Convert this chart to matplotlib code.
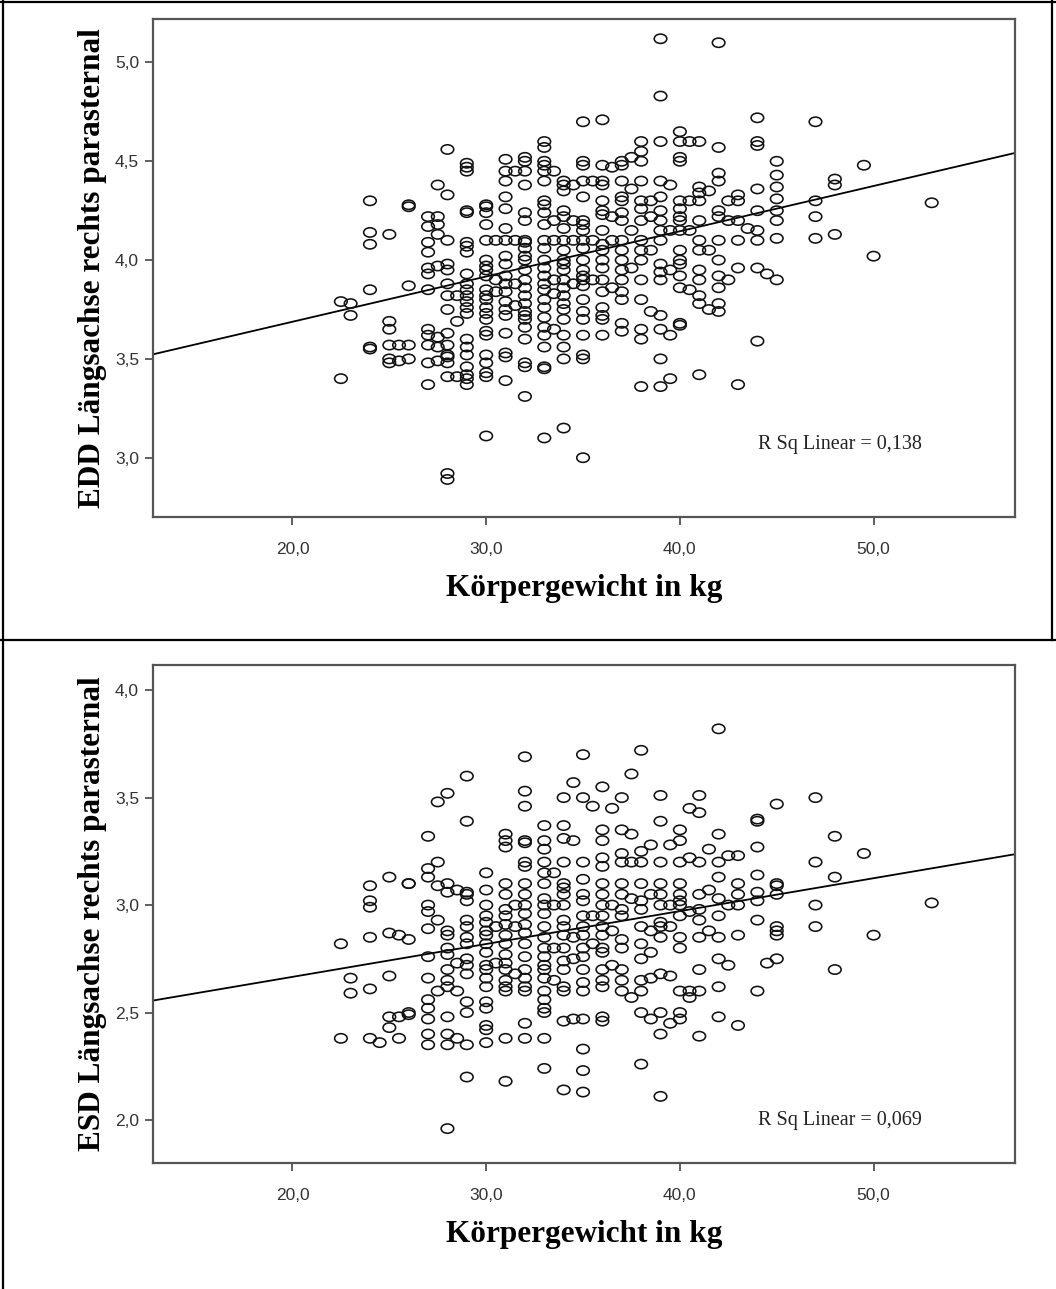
import numpy as np
import matplotlib.pyplot as plt
from matplotlib.path import Path
from matplotlib.lines import Line2D
from matplotlib.ticker import FixedLocator, FuncFormatter

# Körpergewicht (kg) columns and the values plotted above each of them
edd_weights = [22.5, 23, 24, 25, 25.5, 26, 27, 27.5, 28, 28.5, 29, 30, 30.5, 31, 31.5,
               32, 33, 33.5, 34, 34.5, 35, 35.5, 36, 36.5, 37, 37.5, 38, 38.5, 39,
               39.5, 40, 40.5, 41, 41.5, 42, 42.5, 43, 43.5, 44, 44.5, 45, 47, 48,
               49.5, 50, 53]
edd_values = [
    [3.79, 3.40],
    [3.78, 3.72],
    [4.30, 4.14, 4.08, 3.85, 3.56, 3.55],
    [4.13, 3.69, 3.65, 3.57, 3.50, 3.48],
    [3.57, 3.49],
    [4.28, 4.27, 3.87, 3.57, 3.50],
    [4.22, 4.17, 4.09, 4.04, 3.96, 3.93, 3.85, 3.65, 3.62, 3.57, 3.48, 3.37],
    [4.38, 4.22, 4.18, 4.13, 3.97, 3.61, 3.56, 3.49],
    [4.56, 4.33, 4.10, 3.98, 3.95, 3.88, 3.82, 3.75, 3.63, 3.57, 3.52, 3.51, 3.48,
     3.41, 2.92, 2.89],
    [3.82, 3.69, 3.41],
    [4.49, 4.47, 4.45, 4.25, 4.24, 4.09, 4.07, 4.04, 3.93, 3.88, 3.85, 3.82, 3.79,
     3.76, 3.73, 3.60, 3.56, 3.52, 3.46, 3.42, 3.40, 3.37],
    [4.28, 4.27, 4.24, 4.18, 4.10, 4.00, 3.97, 3.95, 3.92, 3.85, 3.82, 3.80, 3.76,
     3.73, 3.70, 3.64, 3.62, 3.52, 3.48, 3.43, 3.41, 3.11],
    [4.10, 3.90, 3.84],
    [4.51, 4.45, 4.40, 4.32, 4.26, 4.16, 4.10, 4.02, 3.98, 3.92, 3.88, 3.84, 3.79,
     3.75, 3.72, 3.63, 3.53, 3.51, 3.39],
    [4.45, 4.10, 3.88, 3.77],
    [4.52, 4.50, 4.45, 4.38, 4.24, 4.20, 4.10, 4.09, 4.06, 4.02, 4.00, 3.95, 3.90,
     3.86, 3.82, 3.78, 3.74, 3.72, 3.70, 3.66, 3.60, 3.48, 3.46, 3.31],
    [4.60, 4.57, 4.50, 4.48, 4.45, 4.40, 4.30, 4.28, 4.24, 4.18, 4.10, 4.06, 4.00,
     3.96, 3.92, 3.88, 3.85, 3.80, 3.76, 3.71, 3.66, 3.62, 3.56, 3.46, 3.45, 3.10],
    [4.45, 4.20, 4.10, 3.90, 3.83, 3.65],
    [4.40, 4.38, 4.35, 4.25, 4.22, 4.16, 4.10, 4.05, 4.00, 3.98, 3.95, 3.90, 3.86,
     3.82, 3.78, 3.75, 3.70, 3.62, 3.56, 3.50, 3.15],
    [4.38, 4.20, 4.10, 3.88],
    [4.70, 4.50, 4.48, 4.40, 4.32, 4.20, 4.18, 4.15, 4.10, 4.06, 4.00, 3.95, 3.92,
     3.90, 3.87, 3.80, 3.74, 3.70, 3.62, 3.52, 3.50, 3.00],
    [4.40, 4.10, 3.90],
    [4.71, 4.48, 4.40, 4.38, 4.30, 4.25, 4.23, 4.15, 4.08, 4.05, 4.00, 3.96, 3.90,
     3.84, 3.76, 3.72, 3.70, 3.62],
    [4.47, 4.22, 4.10, 3.86],
    [4.50, 4.48, 4.40, 4.32, 4.30, 4.24, 4.20, 4.10, 4.05, 4.00, 3.95, 3.90, 3.84,
     3.80, 3.68, 3.64],
    [4.52, 4.36, 4.15, 3.96],
    [4.60, 4.55, 4.50, 4.40, 4.30, 4.26, 4.20, 4.10, 4.05, 4.00, 3.90, 3.80, 3.65,
     3.60, 3.36],
    [4.30, 4.22, 4.05, 3.74],
    [5.12, 4.83, 4.60, 4.40, 4.32, 4.25, 4.20, 4.15, 4.10, 3.98, 3.94, 3.90, 3.72,
     3.65, 3.50, 3.36],
    [4.38, 4.15, 3.95, 3.62, 3.40],
    [4.65, 4.60, 4.52, 4.50, 4.30, 4.26, 4.22, 4.20, 4.15, 4.05, 4.00, 3.98, 3.92,
     3.86, 3.68, 3.67],
    [4.60, 4.30, 4.15, 3.85],
    [4.60, 4.37, 4.34, 4.30, 4.20, 4.10, 4.05, 3.95, 3.90, 3.82, 3.78, 3.42],
    [4.35, 4.05, 3.75],
    [5.10, 4.57, 4.44, 4.40, 4.25, 4.22, 4.10, 4.00, 3.92, 3.86, 3.78, 3.74],
    [4.30, 4.20, 3.90],
    [4.33, 4.30, 4.20, 4.10, 3.96, 3.37],
    [4.16],
    [4.72, 4.60, 4.58, 4.36, 4.25, 4.15, 4.10, 3.96, 3.59],
    [3.93],
    [4.50, 4.43, 4.37, 4.31, 4.25, 4.20, 4.11, 3.90],
    [4.70, 4.30, 4.22, 4.11],
    [4.41, 4.38, 4.13],
    [4.48],
    [4.02],
    [4.29],
]

esd_weights = [22.5, 23, 24, 24.5, 25, 25.5, 26, 27, 27.5, 28, 28.5, 29, 30, 30.5,
               31, 31.5, 32, 33, 33.5, 34, 34.5, 35, 35.5, 36, 36.5, 37, 37.5, 38,
               38.5, 39, 39.5, 40, 40.5, 41, 41.5, 42, 42.5, 43, 44, 44.5, 45, 47,
               48, 49.5, 50, 53]
esd_values = [
    [2.82, 2.38],
    [2.66, 2.59],
    [3.09, 3.02, 2.99, 2.85, 2.61, 2.38],
    [2.36],
    [3.13, 2.87, 2.67, 2.48, 2.43],
    [2.86, 2.48, 2.38],
    [3.10, 3.10, 2.84, 2.50, 2.49],
    [3.32, 3.17, 3.13, 3.00, 2.97, 2.89, 2.76, 2.66, 2.56, 2.52, 2.47, 2.40, 2.35],
    [3.48, 3.20, 3.09, 2.93, 2.60],
    [3.52, 3.10, 3.06, 2.88, 2.86, 2.80, 2.77, 2.70, 2.65, 2.62, 2.48, 2.40, 2.35,
     1.96],
    [3.07, 2.73, 2.60, 2.38],
    [3.60, 3.39, 3.06, 3.05, 3.02, 2.93, 2.90, 2.85, 2.82, 2.75, 2.72, 2.68, 2.55,
     2.50, 2.35, 2.20],
    [3.15, 3.07, 3.00, 2.95, 2.92, 2.88, 2.86, 2.82, 2.78, 2.72, 2.70, 2.66, 2.62,
     2.55, 2.52, 2.44, 2.42, 2.36],
    [2.90, 2.73],
    [3.33, 3.30, 3.27, 3.10, 3.05, 2.98, 2.95, 2.91, 2.86, 2.82, 2.77, 2.73, 2.70,
     2.65, 2.62, 2.60, 2.38, 2.18],
    [3.00, 2.90, 2.68],
    [3.69, 3.53, 3.46, 3.30, 3.29, 3.20, 3.18, 3.10, 3.05, 3.00, 2.96, 2.91, 2.87,
     2.82, 2.76, 2.70, 2.66, 2.62, 2.60, 2.45, 2.38],
    [3.37, 3.30, 3.26, 3.20, 3.15, 3.10, 3.03, 3.00, 2.96, 2.90, 2.85, 2.80, 2.76,
     2.72, 2.70, 2.66, 2.60, 2.56, 2.52, 2.50, 2.38, 2.24],
    [3.15, 3.00, 2.80, 2.65],
    [3.50, 3.37, 3.31, 3.20, 3.10, 3.08, 3.05, 3.00, 2.93, 2.90, 2.86, 2.80, 2.74,
     2.70, 2.62, 2.60, 2.46, 2.14],
    [3.57, 3.30, 2.85, 2.75, 2.47],
    [3.70, 3.50, 3.20, 3.12, 3.05, 3.02, 2.95, 2.90, 2.86, 2.80, 2.76, 2.70, 2.64,
     2.60, 2.47, 2.33, 2.23, 2.13],
    [3.46, 2.95, 2.82],
    [3.55, 3.35, 3.30, 3.22, 3.18, 3.10, 3.05, 3.00, 2.95, 2.90, 2.86, 2.80, 2.78,
     2.70, 2.65, 2.62, 2.48, 2.46],
    [3.45, 3.00, 2.88, 2.72],
    [3.50, 3.35, 3.24, 3.20, 3.10, 3.05, 2.98, 2.95, 2.84, 2.80, 2.70, 2.65, 2.60],
    [3.61, 3.33, 3.20, 3.03, 2.57],
    [3.72, 3.25, 3.20, 3.10, 3.02, 2.98, 2.90, 2.82, 2.75, 2.65, 2.60, 2.50, 2.26],
    [3.28, 3.05, 2.88, 2.78, 2.66, 2.47],
    [3.51, 3.39, 3.20, 3.10, 3.05, 3.00, 2.92, 2.90, 2.85, 2.68, 2.50, 2.40, 2.11],
    [3.28, 3.00, 2.90, 2.67, 2.45],
    [3.35, 3.30, 3.20, 3.10, 3.05, 3.02, 3.00, 2.95, 2.85, 2.80, 2.60, 2.50, 2.47],
    [3.45, 3.22, 2.97, 2.60, 2.57],
    [3.51, 3.43, 3.20, 3.05, 2.98, 2.93, 2.85, 2.70, 2.60, 2.39],
    [3.26, 3.07, 2.88],
    [3.82, 3.33, 3.20, 3.13, 3.03, 2.95, 2.85, 2.75, 2.62, 2.48],
    [3.23, 3.00, 2.72],
    [3.23, 3.10, 3.05, 3.00, 2.86, 2.44],
    [3.40, 3.39, 3.27, 3.14, 3.06, 3.02, 2.93, 2.60],
    [2.73],
    [3.47, 3.10, 3.09, 3.05, 2.90, 2.88, 2.86, 2.75],
    [3.50, 3.20, 3.00, 2.90],
    [3.32, 3.13, 2.70],
    [3.24],
    [2.86],
    [3.01],
]

# fitted lines as drawn in the chart (intercept, slope)
edd_fit = (3.23, 0.0229)
esd_fit = (2.36, 0.0153)
edd_r2 = "R Sq Linear = 0,138"
esd_r2 = "R Sq Linear = 0,069"

x_ticks = [20, 30, 40, 50]
edd_ticks = [3.0, 3.5, 4.0, 4.5, 5.0]
esd_ticks = [2.0, 2.5, 3.0, 3.5, 4.0]

W, H = 1056, 1289
fig = plt.figure(figsize=(W / 100, H / 100), dpi=100)

# oval open markers (the original graphic is stretched sideways)
circ = Path.unit_circle()
oval = Path(circ.vertices * [1.0, 0.74], circ.codes)

tick_font = ['Liberation Sans Narrow', 'Liberation Sans', 'DejaVu Sans']
comma = FuncFormatter(lambda v, p: f"{v:.1f}".replace(".", ","))


def panel(rect, weights, groups, fit, r2, yticks, ylim, ylabel, r2_y):
    ax = fig.add_axes(rect)
    xs = np.concatenate([[w] * len(g) for w, g in zip(weights, groups)])
    ys = np.concatenate(groups)
    ax.scatter(xs, ys, s=82, marker=oval, facecolors='none',
               edgecolors='#111111', linewidths=1.15, zorder=3)
    xl = np.array([12.8, 57.3])
    ax.plot(xl, fit[0] + fit[1] * xl, color='black', lw=1.3, zorder=2)
    ax.set_xlim(12.8, 57.3)
    ax.set_ylim(*ylim)
    ax.xaxis.set_major_locator(FixedLocator(x_ticks))
    ax.yaxis.set_major_locator(FixedLocator(yticks))
    ax.xaxis.set_major_formatter(comma)
    ax.yaxis.set_major_formatter(comma)
    for s in ax.spines.values():
        s.set_color('#555555')
        s.set_linewidth(1.6)
    ax.tick_params(direction='out', length=6, width=1.2, color='#444444',
                   labelcolor='#333333', labelsize=12.5)
    ax.tick_params(axis='x', pad=12)
    ax.tick_params(axis='y', pad=4)
    for lab in ax.get_xticklabels() + ax.get_yticklabels():
        lab.set_family(tick_font)
    ax.set_xlabel("Körpergewicht in kg", family=['Liberation Serif', 'DejaVu Serif'],
                  fontweight='bold', fontsize=22.5, labelpad=12)
    ax.set_ylabel(ylabel, family=['Liberation Serif', 'DejaVu Serif'],
                  fontweight='bold', fontsize=22.5, labelpad=6)
    ax.text(0.797, r2_y, r2, transform=ax.transAxes, ha='center', va='center',
            family=['Liberation Serif', 'DejaVu Serif'], fontsize=14.5, color='#222222')
    return ax


panel([153 / W, 1 - 517 / H, 862 / W, 498 / H], edd_weights, edd_values, edd_fit,
      edd_r2, edd_ticks, (2.70, 5.22), "EDD Längsachse rechts parasternal", 0.145)
panel([153 / W, 1 - 1163 / H, 862 / W, 498 / H], esd_weights, esd_values, esd_fit,
      esd_r2, esd_ticks, (1.80, 4.117), "ESD Längsachse rechts parasternal", 0.086)

# table-like cell borders around the two charts
lk = dict(color='black', lw=1.6, transform=fig.transFigure)
fig.add_artist(Line2D([3 / W, 3 / W], [0, 1], **lk))
fig.add_artist(Line2D([0, 1], [1 - 1.5 / H, 1 - 1.5 / H], **lk))
fig.add_artist(Line2D([1052 / W, 1052 / W], [1 - 640 / H, 1], **lk))
fig.add_artist(Line2D([0, 1], [1 - 640 / H, 1 - 640 / H], **lk))

fig.savefig("out.png", dpi=100, facecolor='white')
